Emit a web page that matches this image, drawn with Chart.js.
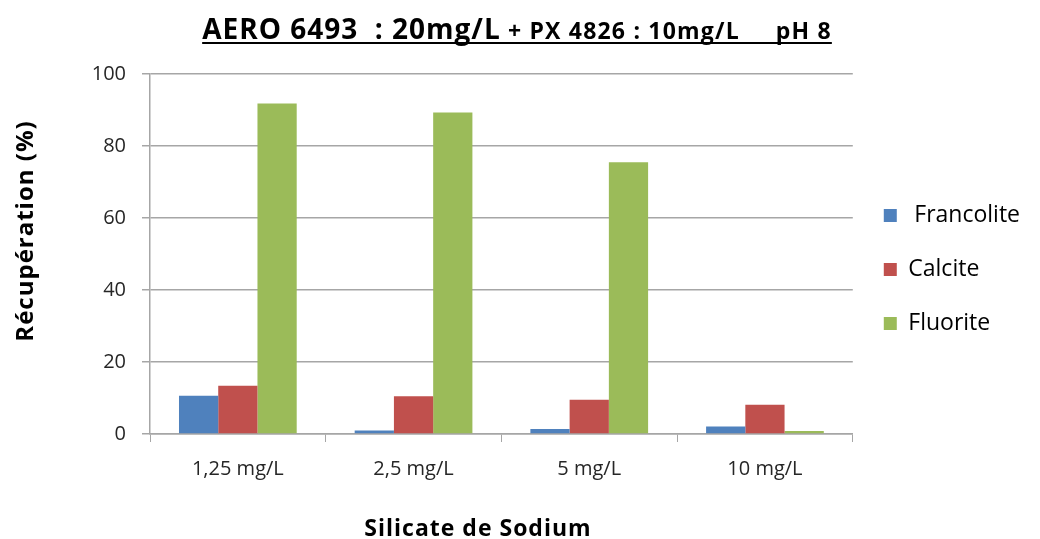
<!DOCTYPE html>
<html>
<head>
<meta charset="utf-8">
<script src="https://cdn.jsdelivr.net/npm/chart.js@4.4.0/dist/chart.umd.min.js"></script>
<style>
  html, body { margin: 0; padding: 0; background: #fff; }
  #wrap { width: 1040px; height: 539px; }
</style>
</head>
<body>
<div id="wrap"><canvas id="barChart"></canvas></div>
<script>
var categories = ['1,25 mg/L', '2,5 mg/L', '5 mg/L', '10 mg/L'];
var francolite = [10.6, 1.0, 1.4, 2.1];
var calcite = [13.4, 10.5, 9.5, 8.1];
var fluorite = [91.8, 89.3, 75.5, 0.8];
var yTicks = [0, 20, 40, 60, 80, 100];

var FONT = '"Open Sans", sans-serif';

// drawn by hand: title mixes two sizes and is underlined,
// axis titles are not centred on the plot in the original
var textPlugin = {
    id: 'textPlugin',
    afterDraw: function(chart) {
        var ctx = chart.ctx;
        ctx.save();
        ctx.fillStyle = '#000';
        ctx.textBaseline = 'alphabetic';
        ctx.textAlign = 'left';

        var parts = [
            { text: 'AERO 6493  : 20mg/L', font: 'bold 28px ' + FONT, sp: '1px' },
            { text: ' + PX 4826 : 10mg/L     pH 8', font: 'bold 23px ' + FONT, sp: '1.2px' }
        ];
        var total = 0;
        parts.forEach(function(p) {
            ctx.font = p.font;
            ctx.letterSpacing = p.sp;
            p.w = ctx.measureText(p.text).width;
            total += p.w;
        });
        var x = 517 - total / 2;
        var startX = x;
        parts.forEach(function(p) {
            ctx.font = p.font;
            ctx.letterSpacing = p.sp;
            ctx.fillText(p.text, x, 39);
            x += p.w;
        });
        ctx.fillRect(startX, 42, total, 2);

        ctx.font = 'bold 23px ' + FONT;
        ctx.letterSpacing = '1px';
        ctx.textAlign = 'center';
        ctx.fillText('Silicate de Sodium', 478, 536);

        ctx.font = 'bold 24px ' + FONT;
        ctx.letterSpacing = '1px';
        ctx.translate(33, 231);
        ctx.rotate(-Math.PI / 2);
        ctx.fillText('Récupération (%)', 0, 0);
        ctx.restore();
    }
};

var ctxBar = document.getElementById('barChart').getContext('2d');
var barChart = new Chart(ctxBar, {
    type: 'bar',
    data: {
        labels: categories,
        datasets: [{
            label: ' Francolite',
            data: francolite,
            backgroundColor: '#4F81BD'
        }, {
            label: 'Calcite',
            data: calcite,
            backgroundColor: '#C0504D'
        }, {
            label: 'Fluorite',
            data: fluorite,
            backgroundColor: '#9BBB59'
        }]
    },
    options: {
        responsive: true,
        maintainAspectRatio: false,
        animation: false,
        layout: {
            padding: { top: 0, left: 0, right: 10, bottom: 0 }
        },
        datasets: {
            bar: { categoryPercentage: 0.67, barPercentage: 1.0 }
        },
        plugins: {
            // empty title only reserves the band at the top (legend stays full height)
            title: {
                display: true,
                text: '',
                fullSize: false,
                padding: { top: 62, bottom: 0 },
                font: { size: 10 }
            },
            tooltip: { enabled: false },
            legend: {
                position: 'right',
                labels: {
                    boxWidth: 13,
                    boxHeight: 13,
                    padding: 31,
                    color: '#000',
                    font: { family: FONT, size: 23 }
                }
            }
        },
        scales: {
            x: {
                grid: {
                    drawOnChartArea: false,
                    drawTicks: true,
                    tickLength: 8,
                    color: '#A6A6A6'
                },
                border: { color: '#A6A6A6', width: 1.5 },
                ticks: {
                    color: '#262626',
                    padding: 15,
                    font: { family: FONT, size: 20 }
                },
                afterFit: function(scale) { scale.height = 105; }
            },
            y: {
                min: 0,
                max: 100,
                afterBuildTicks: function(scale) {
                    scale.ticks = yTicks.map(function(v) { return { value: v }; });
                },
                grid: {
                    color: '#A6A6A6',
                    lineWidth: 1.5,
                    tickLength: 8
                },
                border: { color: '#A6A6A6', width: 1.5 },
                ticks: {
                    color: '#262626',
                    padding: 16,
                    font: { family: FONT, size: 20 }
                },
                afterFit: function(scale) { scale.width = 150; }
            }
        }
    },
    plugins: [textPlugin]
});
</script>
</body>
</html>
